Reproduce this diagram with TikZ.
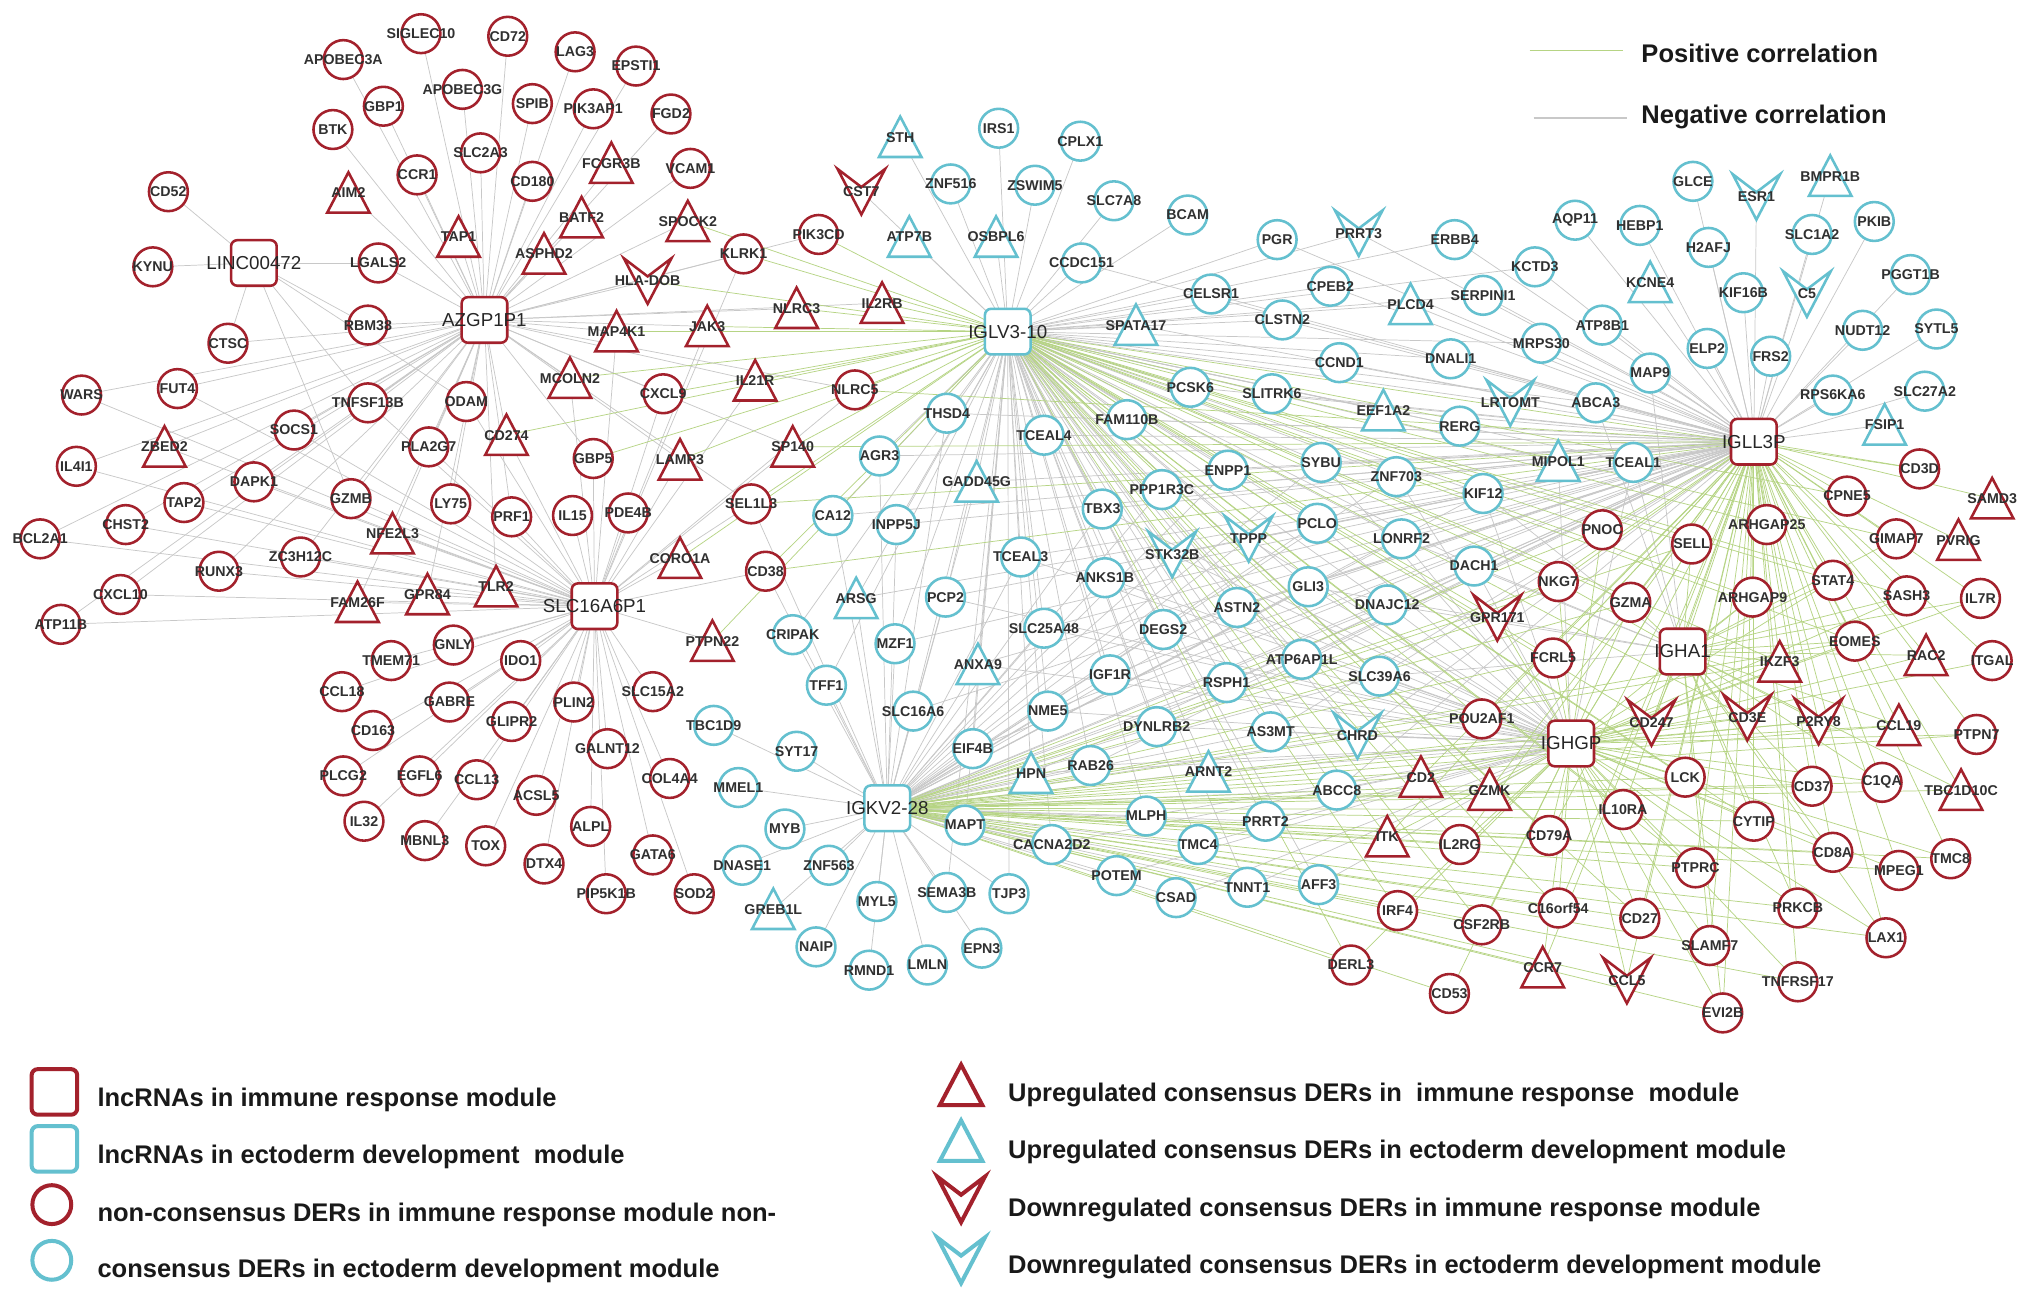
\documentclass[tikz,border=0pt]{standalone}
\usepackage{fontspec}
\setmainfont{Liberation Sans}
\definecolor{dred}{RGB}{163,33,44}
\definecolor{cyn}{RGB}{100,192,207}
\definecolor{negc}{RGB}{200,200,200}
\definecolor{posc}{RGB}{182,212,132}
\definecolor{txt}{RGB}{48,48,48}
\pgfdeclarelayer{bg}
\pgfsetlayers{bg,main}
\tikzset{
  shp/.style={line width=1.4pt, fill=white, line join=miter},
  rd/.style={color=dred},
  cy/.style={color=cyn},
  cir/.pic={\draw[shp] (0cm,0cm) circle (0.375cm);},
  sqr/.pic={\draw[shp, rounded corners=0.12cm] (-0.44cm,-0.44cm) rectangle (0.44cm,0.44cm);},
  tri/.pic={\draw[shp] (-0.41cm,-0.38cm) -- (0.41cm,-0.38cm) -- (0cm,0.4cm) -- cycle;},
  vee/.pic={\draw[shp] (-0.46cm,0.44cm) -- (0cm,0.09cm) -- (0.46cm,0.44cm) -- (0cm,-0.44cm) -- cycle;},
  gl/.style={font=\fontsize{7.8}{9}\bfseries\selectfont, text=txt, inner sep=0pt},
  hub/.style={font=\fontsize{10.3}{11}\selectfont, text=black!85, inner sep=0pt},
  lgd/.style={font=\fontsize{14}{16}\bfseries\selectfont, text=black!90, inner sep=0pt, anchor=west},
  big/.style={shp/.append style={line width=2.2pt}},
  negcor/.style={negc, line width=0.4pt},
  poscor/.style={posc, line width=0.4pt},
}
\begin{document}
\begin{tikzpicture}[x=0.025cm,y=-0.025cm]
\path[use as bounding box] (0,0) rectangle (1568,1007);

% lncRNAs
\foreach \t/\x/\y in {LINC00472/196/203, AZGP1P1/374/247, SLC16A6P1/459/468,
  IGLL3P/1354/341, IGHA1/1299/503, IGHGP/1213/574}
  \path (\x,\y) pic[rd]{sqr} node[hub] (\t) {\t};
\path (778,256) pic[cy]{sqr} node[hub] (IGLV310) {IGLV3-10};
\path (685,624) pic[cy]{sqr} node[hub] (IGKV228) {IGKV2-28};

% immune response module, non-consensus
\foreach \t/\x/\y in {SIGLEC10/325/26, CD72/392/28, APOBEC3A/265/46, LAG3/444/40,
  EPSTI1/491/51, APOBEC3G/357/69, GBP1/296/82, SPIB/411/80, PIK3AP1/458/84,
  FGD2/518/88, BTK/257/100, SLC2A3/371/118, CCR1/322/135, CD180/411/140,
  VCAM1/533/130, CD52/130/148, KLRK1/574/196, KYNU/118/206, LGALS2/292/203,
  RBM38/284/251, CTSC/176/265, PIK3CD/632/181, CXCL9/512/304, NLRC5/660/301,
  GBP5/458/354, SEL1L3/580/389, PDE4B/485/396, IL15/442/398, PRF1/395/399,
  CD38/591/441, ODAM/360/310, TNFSF13B/284/311, PLA2G7/331/345, SOCS1/227/332,
  FUT4/137/300, WARS/63/305, IL4I1/59/360, DAPK1/196/372, TAP2/142/388,
  GZMB/271/385, LY75/348/389, CHST2/97/405, BCL2A1/31/416, ZC3H12C/232/430,
  RUNX3/169/441, CXCL10/93/459, ATP11B/47/482, GNLY/350/498, TMEM71/302/510,
  IDO1/402/510, CCL18/264/534, GABRE/347/542, PLIN2/443/542, SLC15A2/504/534,
  CD163/288/564, GLIPR2/395/557, GALNT12/469/578, COL4A4/517/601, PLCG2/265/599,
  EGFL6/324/599, CCL13/368/602, ACSL5/414/614, ALPL/456/638, IL32/281/634,
  MBNL3/328/649, TOX/375/653, DTX4/420/667, GATA6/504/660, PIP5K1B/468/690,
  SOD2/536/690, POU2AF1/1144/555, IL2RG/1127/652, IRF4/1079/703, CSF2RB/1144/714,
  DERL3/1043/745, CD53/1119/767, CD3D/1482/362, CPNE5/1426/383, GIMAP7/1464/416,
  ARHGAP25/1364/405, SELL/1306/420, PNOC/1237/409, NKG7/1203/449, GZMA/1259/465,
  ARHGAP9/1353/461, STAT4/1415/448, SASH3/1472/460, IL7R/1529/462, EOMES/1432/495,
  ITGAL/1538/510, FCRL5/1199/508, PTPN7/1526/567, LCK/1301/600, CD37/1399/607,
  C1QA/1453/604, IL10RA/1253/625, CYTIP/1354/634, CD79A/1196/645, CD8A/1415/658,
  MPEG1/1466/672, TMC8/1506/663, PTPRC/1309/670, C16orf54/1203/701, CD27/1266/709,
  PRKCB/1388/701, LAX1/1456/724, SLAMF7/1320/730, TNFRSF17/1388/758, EVI2B/1330/782}
  \path (\x,\y) pic[rd]{cir} node[gl] (\t) {\t};

% immune response module, up
\foreach \t/\x/\y in {FCGR3B/472/126, AIM2/269/149, BATF2/449/168, SPOCK2/531/171,
  TAP1/354/183, ASPHD2/420/196, MAP4K1/476/256, JAK3/546/252, NLRC3/615/238,
  IL2RB/681/234, MCOLN2/440/292, IL21R/583/294, CD274/391/336, LAMP3/525/355,
  SP140/612/345, ZBED2/127/345, NFE2L3/303/412, TLR2/383/453, GPR84/330/459,
  FAM26F/276/465, CORO1A/525/431, PTPN22/550/495, SAMD3/1538/385, PVRIG/1512/417,
  IKZF3/1374/511, RAC2/1487/506, CCL19/1466/560, TBC1D10C/1514/610, CD2/1097/600,
  GZMK/1150/610, ITK/1071/646, CCR7/1191/747}
  \path (\x,\y) pic[rd]{tri} node[gl] (\t) {\t};

% immune response module, down
\path (500,217) pic[rd]{vee} node[gl] (HLADOB) {HLA-DOB};
\foreach \t/\x/\y in {CST7/665/148, GPR171/1156/477, CD247/1275/558,
  CD3E/1349/554, P2RY8/1404/557, CCL5/1256/757}
  \path (\x,\y) pic[rd]{vee} node[gl] (\t) {\t};

% ectoderm development module, non-consensus
\foreach \t/\x/\y in {IRS1/771/99, ZNF516/734/142, ZSWIM5/799/143, CPLX1/834/109,
  SLC7A8/860/155, BCAM/917/166, CCDC151/835/203, PGR/986/185, ERBB4/1123/185,
  CELSR1/935/227, CPEB2/1027/221, CLSTN2/990/247, SERPINI1/1145/228,
  CCND1/1034/280, DNALI1/1120/277, KCTD3/1185/206, AQP11/1216/170, HEBP1/1266/174,
  GLCE/1307/140, PKIB/1447/171, SLC1A2/1399/181, H2AFJ/1319/191, KIF16B/1346/226,
  PGGT1B/1475/212, NUDT12/1438/255, SYTL5/1495/254, ATP8B1/1237/251,
  MRPS30/1190/265, ELP2/1318/269, FRS2/1367/275, MAP9/1274/288, RPS6KA6/1415/305,
  SLC27A2/1486/302, ABCA3/1232/311, RERG/1127/329, TCEAL1/1261/357, KIF12/1145/381,
  ZNF703/1078/368, SYBU/1020/357, LONRF2/1082/416, PCLO/1017/404, GLI3/1010/453,
  DNAJC12/1071/467, DACH1/1138/437, ENPP1/948/363, PPP1R3C/897/378, TBX3/851/393,
  FAM110B/870/324, PCSK6/919/299, SLITRK6/982/304, TCEAL4/806/336, TCEAL3/788/430,
  ANKS1B/853/446, ASTN2/955/469, SLC25A48/806/485, DEGS2/898/486,
  ATP6AP1L/1005/509, RSPH1/947/527, SLC39A6/1065/522, IGF1R/857/521, NME5/809/549,
  DYNLRB2/893/561, AS3MT/981/565, RAB26/842/591, ABCC8/1032/610, MLPH/885/630,
  PRRT2/977/634, CACNA2D2/812/652, TMC4/925/652, POTEM/862/676, CSAD/908/693,
  TNNT1/963/685, AFF3/1018/683, TJP3/779/690, SLC16A6/705/549, EIF4B/751/578,
  MAPT/745/637, TBC1D9/551/560, SYT17/615/580, MMEL1/570/608, MYB/606/640,
  DNASE1/573/668, ZNF563/640/668, MYL5/677/696, SEMA3B/731/689, NAIP/630/731,
  RMND1/671/749, LMLN/716/745, EPN3/758/732, MZF1/691/497, TFF1/638/529,
  CRIPAK/612/490, PCP2/730/461, CA12/643/398, INPP5J/692/405, AGR3/679/352,
  THSD4/731/319}
  \path (\x,\y) pic[cy]{cir} node[gl] (\t) {\t};

% ectoderm development module, up
\foreach \t/\x/\y in {STH/695/106, ATP7B/702/183, OSBPL6/769/183, SPATA17/877/251,
  PLCD4/1089/235, KCNE4/1274/218, BMPR1B/1413/136, FSIP1/1455/328,
  MIPOL1/1203/356, EEF1A2/1068/317, GADD45G/754/372, ARSG/661/462,
  ANXA9/755/513, HPN/796/597, ARNT2/933/596, GREB1L/597/702}
  \path (\x,\y) pic[cy]{tri} node[gl] (\t) {\t};

% ectoderm development module, down
\foreach \t/\x/\y in {PRRT3/1049/180, ESR1/1356/152, C5/1395/227, LRTOMT/1166/311,
  TPPP/964/416, STK32B/905/428, CHRD/1048/568}
  \path (\x,\y) pic[cy]{vee} node[gl] (\t) {\t};

% correlations
\begin{pgfonlayer}{bg}
\fill[white] (0,0) rectangle (1568,1007);
\foreach \t in {SIGLEC10, CD72, APOBEC3A, LAG3, EPSTI1, APOBEC3G, GBP1, SPIB, PIK3AP1,
  FGD2, BTK, SLC2A3, FCGR3B, CCR1, CD180, VCAM1, AIM2, BATF2, SPOCK2, TAP1, ASPHD2,
  KLRK1, HLADOB, LGALS2, RBM38, CTSC, MAP4K1, JAK3, NLRC3, IL2RB, MCOLN2, CXCL9,
  IL21R, ODAM, TNFSF13B, PLA2G7, CD274, SOCS1, FUT4, WARS, ZBED2, IL4I1, DAPK1,
  TAP2, GZMB, LY75, CHST2, BCL2A1, NFE2L3, ZC3H12C, RUNX3, CXCL10, ATP11B, GBP5,
  LAMP3, PRF1, TLR2, GPR84, FAM26F, PIK3CD, NLRC5, SEL1L3, SP140}
  \draw[negcor] (AZGP1P1.center) -- (\t.center);
\foreach \t in {CD52, KYNU, LGALS2, RBM38, CTSC, TNFSF13B, ODAM, GZMB}
  \draw[negcor] (LINC00472.center) -- (\t.center);
\foreach \t in {WARS, FUT4, IL4I1, ZBED2, TAP2, CHST2, BCL2A1, DAPK1, SOCS1, GZMB,
  ZC3H12C, RUNX3, CXCL10, ATP11B, FAM26F, GPR84, TLR2, NFE2L3, LY75, PRF1, IL15,
  PDE4B, GBP5, LAMP3, CORO1A, CD38, PTPN22, SEL1L3, TMEM71, GNLY, IDO1, CCL18,
  GABRE, CD163, GLIPR2, PLCG2, EGFL6, CCL13, IL32, MBNL3, TOX, PLIN2, SLC15A2,
  GALNT12, COL4A4, ACSL5, ALPL, DTX4, GATA6, PIP5K1B, SOD2, TNFSF13B, PLA2G7,
  CD274, ODAM, MCOLN2, CXCL9, IL21R, SP140, NLRC5, KLRK1, JAK3, MAP4K1}
  \draw[negcor] (SLC16A6P1.center) -- (\t.center);
\foreach \t in {STH, IRS1, ZNF516, ZSWIM5, CPLX1, ATP7B, OSBPL6, SLC7A8, BCAM,
  CCDC151, PGR, PRRT3, ERBB4, CELSR1, CPEB2, CLSTN2, SPATA17, PLCD4, SERPINI1,
  CCND1, DNALI1, KCTD3, MRPS30, THSD4, TCEAL4, AGR3, GADD45G, CA12, INPP5J, TBX3,
  ANKS1B, TCEAL3, SLC25A48, PCP2, ARSG, MZF1, ANXA9, CRIPAK, TFF1, SLC16A6, IGF1R,
  NME5, DEGS2, STK32B, ASTN2, HPN, EIF4B, TJP3, CST7, RAB26, DYNLRB2, CACNA2D2,
  MAPT, SEMA3B, ABCC8, CHRD, SLC39A6, DNAJC12, LONRF2, PCLO, GLI3, ATP6AP1L,
  RSPH1, AS3MT, PRRT2, AFF3, TNNT1, TMC4, MLPH, ARNT2, ENPP1, SYBU, ZNF703, KIF12,
  DACH1, TPPP, PPP1R3C, FAM110B, PCSK6, SLITRK6, EEF1A2, RERG, LRTOMT, ABCA3,
  TCEAL1, MIPOL1}
  \draw[negcor] (IGLV310.center) -- (\t.center);
\foreach \t in {TBC1D9, SYT17, MMEL1, MYB, DNASE1, ZNF563, GREB1L, NAIP, RMND1, MYL5,
  LMLN, SEMA3B, EPN3, MAPT, EIF4B, SLC16A6, TJP3, TFF1, CRIPAK, MZF1, ARSG, CA12,
  PCP2, ANXA9, HPN, NME5, INPP5J, AGR3, THSD4, SLC25A48, CD38, SEL1L3, TBX3,
  ANKS1B, TCEAL3, GADD45G, IGF1R, DEGS2, ASTN2, GLI3, PCLO, SYBU, ENPP1, PPP1R3C,
  STK32B, TPPP, RSPH1, ATP6AP1L, DYNLRB2, RAB26, ARNT2, AS3MT, MLPH, TMC4, PRRT2,
  CACNA2D2, POTEM, CSAD, TNNT1, AFF3, ABCC8, CHRD, SLC39A6, DNAJC12, LONRF2,
  ZNF703, KIF12, DACH1}
  \draw[negcor] (IGKV228.center) -- (\t.center);
\foreach \t in {GLCE, ESR1, BMPR1B, PKIB, SLC1A2, H2AFJ, KCNE4, KIF16B, C5, PGGT1B,
  NUDT12, SYTL5, ATP8B1, MRPS30, ELP2, FRS2, MAP9, RPS6KA6, SLC27A2, ABCA3, FSIP1,
  MIPOL1, TCEAL1, AQP11, HEBP1, KCTD3, LRTOMT, RERG, EEF1A2, KIF12, ZNF703, SYBU,
  DNALI1, SERPINI1, PLCD4, ERBB4, PRRT3, CCND1, SLITRK6, PCSK6, ENPP1, FAM110B,
  LONRF2, PCLO, DACH1, PGR, CPEB2, CLSTN2, CELSR1, TCEAL4, PPP1R3C, TPPP, GLI3,
  TBX3, STK32B, ANKS1B, TCEAL3, ASTN2, SLC25A48, DEGS2, AGR3, CA12, INPP5J,
  GADD45G, PCP2, ARSG, MZF1, SLC16A6, ANXA9, EIF4B, IGF1R, NME5, RSPH1, ATP6AP1L,
  SLC39A6, DNAJC12, HPN, RAB26, DYNLRB2, AS3MT, CHRD, ABCC8, THSD4, SPATA17,
  CCDC151}
  \draw[negcor] (IGLL3P.center) -- (\t.center);
\foreach \t in {ABCC8, CHRD, SLC39A6, DNAJC12, LONRF2, ZNF703, ATP6AP1L, GLI3, AS3MT,
  PRRT2, AFF3, DACH1, KIF12, TCEAL1, MIPOL1, RSPH1, ASTN2, DYNLRB2, ARNT2, MLPH,
  TMC4, TNNT1, NME5, IGF1R, TBX3, ANKS1B, SLC25A48, DEGS2, TCEAL3, PCP2, ANXA9,
  HPN, RAB26, CACNA2D2, POTEM, CSAD, PCLO, SYBU, TPPP, STK32B}
  \draw[negcor] (IGHGP.center) -- (\t.center);
\foreach \t in {DACH1, KIF12, TCEAL1, SLC39A6, ABCA3, MAP9, LONRF2, DNAJC12, GLI3}
  \draw[negcor] (IGHA1.center) -- (\t.center);
\foreach \t in {NLRC5, IL21R, SEL1L3, SP140, LAMP3, GBP5, CD274, CXCL9, HLADOB,
  SPOCK2, KLRK1, PIK3CD, IL2RB, NLRC3, JAK3, MAP4K1, CD38, CORO1A, PTPN22, MCOLN2,
  PNOC, SELL, NKG7, GZMA, FCRL5, POU2AF1, CD2, ITK, GZMK, IL2RG, CD79A, ARHGAP25,
  ARHGAP9, GPR171, STAT4, CPNE5, IKZF3, CD247, CD3E, LCK, IL10RA, C16orf54, CD27,
  PTPRC, CYTIP, IRF4, CSF2RB, DERL3, SASH3, EOMES, CD3D, GIMAP7}
  \draw[poscor] (IGLV310.center) -- (\t.center);
\foreach \t in {CD2, ITK, GZMK, IL2RG, IRF4, CSF2RB, DERL3, CD53, CCR7, CCL5,
  C16orf54, CD27, CD79A, IL10RA, POU2AF1, LCK, PTPRC, SLAMF7, EVI2B, TNFRSF17,
  PRKCB, CYTIP, CD8A, LAX1, FCRL5, GPR171, CD247, CD3E, NKG7, GZMA, SELL, PNOC,
  IKZF3, CD37, MPEG1, TMC8, P2RY8, CCL19, C1QA, PTPN7, TBC1D10C, EOMES}
  \draw[poscor] (IGKV228.center) -- (\t.center);
\foreach \t in {ARHGAP25, SELL, PNOC, ARHGAP9, GZMA, NKG7, STAT4, CPNE5, GIMAP7,
  PVRIG, SAMD3, CD3D, SASH3, IL7R, EOMES, IKZF3, RAC2, ITGAL, CD247, CD3E, P2RY8,
  CCL19, LCK, CD37, CYTIP, CD8A, PRKCB, PTPRC, SLAMF7, EVI2B, CD27, CCL5, IL10RA,
  MPEG1, LAX1, TMC8, TNFRSF17, C1QA, TBC1D10C, PTPN7, FCRL5, GPR171, POU2AF1,
  CD79A, IGHA1, IGHGP, CD2, GZMK, ITK, IL2RG, CCR7, C16orf54, SEL1L3, NLRC5,
  SP140, CD38}
  \draw[poscor] (IGLL3P.center) -- (\t.center);
\foreach \t in {CD247, CD3E, LCK, IL10RA, CD79A, C16orf54, CCR7, CCL5, CD27, PTPRC,
  CYTIP, SLAMF7, EVI2B, CD8A, CD37, GZMK, CD2, ITK, IL2RG, IRF4, CSF2RB, DERL3,
  CD53, POU2AF1, FCRL5, NKG7, GZMA, GPR171, PNOC, SELL, TNFRSF17, PRKCB, P2RY8,
  CCL19, PTPN7, C1QA, MPEG1, LAX1, TMC8, IKZF3, EOMES, STAT4, SASH3, ARHGAP9,
  RAC2, ITGAL, IL7R}
  \draw[poscor] (IGHGP.center) -- (\t.center);
\foreach \t in {SELL, ARHGAP9, IKZF3, EOMES, CD3E, P2RY8, CYTIP, CD8A, PRKCB, LAX1,
  STAT4, SASH3, RAC2, CCL19, TBC1D10C, CD37, C1QA, EVI2B, SLAMF7, CD247, GZMA,
  NKG7, IL7R, GIMAP7}
  \draw[poscor] (IGHA1.center) -- (\t.center);
\end{pgfonlayer}

% legend
\draw[posc, line width=0.7pt] (1181,39) -- (1253,39);
\draw[negc, line width=0.7pt] (1184,91) -- (1256,91);
\node[lgd] (pl) at (1267,41) {Positive correlation};
\node[lgd] (nl) at (1267,90) {Negative correlation};

\path (42,843) pic[rd,big]{sqr} (75,849) node[lgd] (l1) {lncRNAs in immune response module};
\path (42,887) pic[cy,big]{sqr} (75,893) node[lgd] (l2) {lncRNAs in ectoderm development\ \ module};
\path (40,930) pic[rd,big]{cir} (75,938) node[lgd] (l3) {non-consensus DERs in immune response module non-};
\path (40,973) pic[cy,big]{cir} (75,981) node[lgd] (l4) {consensus DERs in ectoderm development module};
\path (742,838) pic[rd,big]{tri} (778,845) node[lgd] (l5) {Upregulated consensus DERs in\ \ immune response\ \ module};
\path (742,881) pic[cy,big]{tri} (778,889) node[lgd] (l6) {Upregulated consensus DERs in ectoderm development module};
\path (742,926) pic[rd,big]{vee} (778,934) node[lgd] (l7) {Downregulated consensus DERs in immune response module};
\path (742,973) pic[cy,big]{vee} (778,978) node[lgd] (l8) {Downregulated consensus DERs in ectoderm development module};
\end{tikzpicture}
\end{document}
